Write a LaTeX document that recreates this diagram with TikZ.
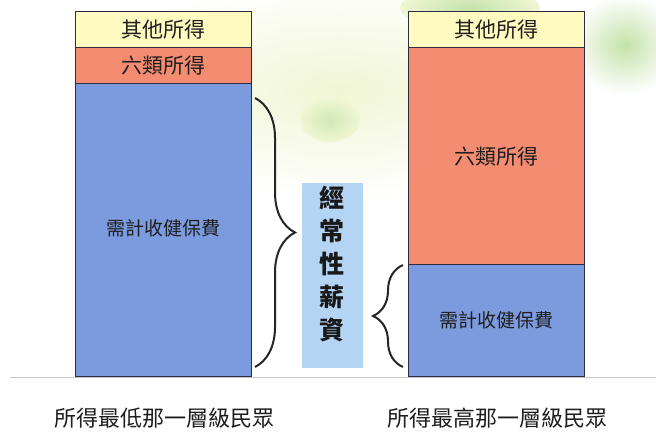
\documentclass[tikz,border=0pt]{standalone}
\usepackage{fontspec}
\newfontfamily\cjk{Noto Sans CJK TC}
\usetikzlibrary{decorations.pathreplacing}
\definecolor{yellowc}{RGB}{254,250,192}
\definecolor{redc}{RGB}{244,140,114}
\definecolor{bluec}{RGB}{124,154,222}
\definecolor{boxblue}{RGB}{180,212,244}
\definecolor{barline}{RGB}{45,45,65}
\definecolor{txt}{RGB}{30,30,30}
\definecolor{leaf}{RGB}{196,226,170}
\definecolor{tint}{RGB}{240,246,212}
\begin{document}
\begin{tikzpicture}[x=1pt,y=-1pt,
  seg/.style={draw=barline, line width=1.2pt, minimum width=176, inner sep=0pt, anchor=north west, text=txt},
  lbl/.style={font=\cjk\fontsize{21}{21}\selectfont},
  slbl/.style={font=\cjk\fontsize{19}{19}\selectfont},
  bigbrace/.style={decorate, decoration={brace, amplitude=#1}, line width=2pt, draw=black!85},
  caption/.style={font=\cjk\fontsize{22}{22}\selectfont, text=txt}]
\useasboundingbox (0,0) rectangle (656,438);
% background tint
\fill[white] (0,0) rectangle (656,438);
\shade[inner color=tint, outer color=white] (340,90) ellipse (260 and 110);
\shade[inner color=leaf, outer color=white] (625,45) ellipse (55 and 50);
\shade[inner color=leaf, outer color=tint] (470,8) ellipse (70 and 22);
\shade[inner color=leaf!70!tint, outer color=tint] (330,120) ellipse (30 and 22);
% left bar
\node[seg, fill=yellowc, minimum height=36, lbl] (ly) at (75,11) {其他所得};
\node[seg, fill=redc, minimum height=36, lbl] (lr) at (75,47) {六類所得};
\node[seg, fill=bluec, minimum height=293, anchor=north west] (lb) at (75,83) {};
\node[slbl, text=txt] (lbt) at (163,228) {需計收健保費};
% right bar
\node[seg, fill=yellowc, minimum height=36, lbl] (ry) at (408,11) {其他所得};
\node[seg, fill=redc, minimum height=217, lbl] (rr) at (408,47) {六類所得};
\node[seg, fill=bluec, minimum height=112, slbl] (rb) at (408,264) {需計收健保費};
% baseline
\coordinate (b0) at (10,377);
\coordinate (b1) at (656,377);
\draw[black!22, line width=1pt] (b0) -- (b1);
% central box
\node[fill=boxblue, minimum width=61, minimum height=185, anchor=north west, inner sep=0pt] (cb) at (302,183) {};
\node[font=\cjk\bfseries\fontsize{25}{33}\selectfont, align=center, text=black!90] (vt) at (332,264) {經\\常\\性\\薪\\資};
% braces
\coordinate (lt) at (255,98);
\coordinate (lbm) at (255,367);
\draw[bigbrace=40] (lt) -- (lbm);
\coordinate (rt) at (403,265);
\coordinate (rbm) at (403,367);
\draw[bigbrace=30] (rbm) -- (rt);
% captions
\node[caption] (c1) at (164,418) {所得最低那一層級民眾};
\node[caption] (c2) at (497,418) {所得最高那一層級民眾};
\end{tikzpicture}
\end{document}
